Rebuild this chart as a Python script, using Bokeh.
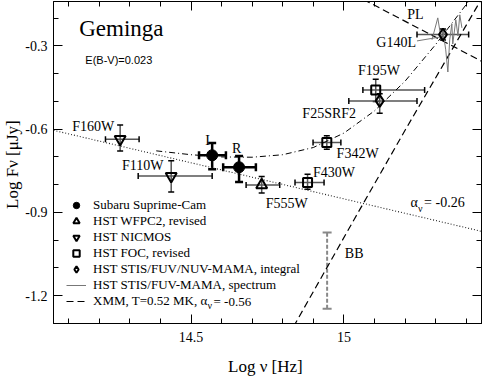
from bokeh.plotting import figure
from bokeh.models import (ColumnDataSource, Whisker, TeeHead, Label, Legend, LegendItem,
                          LinearAxis, FixedTicker, Range1d)
from bokeh.embed import file_html
from bokeh.resources import INLINE

SERIF = "Liberation Serif"
SANS = "Liberation Sans"

# ---------------- data ----------------
x_major_ticks = [14.5, 15.0]
x_minor_ticks = [14.1, 14.2, 14.3, 14.4, 14.5, 14.6, 14.7, 14.8, 14.9, 15.0, 15.1, 15.2, 15.3, 15.4]
x_tick_labels = {14.5: "14.5", 15.0: "15"}
y_major_ticks = [-1.2, -0.9, -0.6, -0.3]
y_minor_ticks = [-1.3, -1.2, -1.1, -1.0, -0.9, -0.8, -0.7, -0.6, -0.5, -0.4, -0.3, -0.2]
y_tick_labels = {-1.2: "-1.2", -0.9: "-0.9", -0.6: "-0.6", -0.3: "-0.3"}

subaru_name = ["I", "R"]
subaru_lognu = [14.569, 14.657]
subaru_lognu_lo = [14.526, 14.605]
subaru_lognu_hi = [14.614, 14.712]
subaru_logf = [-0.694, -0.737]
subaru_logf_lo = [-0.744, -0.790]
subaru_logf_hi = [-0.650, -0.697]

wfpc2_name = ["F555W"]
wfpc2_lognu = [14.731]
wfpc2_lognu_lo = [14.680]
wfpc2_lognu_hi = [14.790]
wfpc2_logf = [-0.801]
wfpc2_logf_lo = [-0.830]
wfpc2_logf_hi = [-0.770]

nicmos_name = ["F160W", "F110W"]
nicmos_lognu = [14.268, 14.435]
nicmos_lognu_lo = [14.220, 14.327]
nicmos_lognu_hi = [14.330, 14.569]
nicmos_logf = [-0.636, -0.769]
nicmos_logf_lo = [-0.679, -0.826]
nicmos_logf_hi = [-0.585, -0.714]

foc_name = ["F430W", "F342W", "F195W"]
foc_lognu = [14.881, 14.944, 15.104]
foc_lognu_lo = [14.840, 14.899, 15.062]
foc_lognu_hi = [14.935, 14.990, 15.264]
foc_logf = [-0.792, -0.648, -0.459]
foc_logf_lo = [-0.816, -0.672, -0.500]
foc_logf_hi = [-0.762, -0.624, -0.420]

stis_name = ["F25SRF2", "G140L"]
stis_lognu = [15.117, 15.324]
stis_lognu_lo = [15.016, 15.239]
stis_lognu_hi = [15.239, 15.408]
stis_logf = [-0.498, -0.259]
stis_logf_lo = [-0.543, -0.279]
stis_logf_hi = [-0.472, -0.239]

spec_lognu = [15.288, 15.307, 15.317, 15.324, 15.333, 15.340, 15.346, 15.353,
              15.356, 15.366, 15.373, 15.379, 15.386]
spec_logf = [-0.278, -0.199, -0.268, -0.246, -0.314, -0.394, -0.278, -0.221,
             -0.293, -0.206, -0.264, -0.188, -0.235]

pl_opt_lognu = [14.05, 15.45]          # optical power law, alpha = -0.26
pl_opt_logf = [-0.604, -0.968]

pl_xmm_lognu = [15.00, 15.45]          # XMM power law, alpha = -0.56
pl_xmm_logf = [-0.096, -0.355]

bb_lognu = [14.80, 15.033, 15.20, 15.45]   # XMM blackbody, T = 0.52 MK
bb_logf = [-1.380, -0.926, -0.604, -0.131]

model_lognu = [14.386, 14.5, 14.6, 14.7, 14.8, 14.9, 15.0, 15.1, 15.2, 15.3, 15.4, 15.45]
model_logf = [-0.678, -0.692, -0.700, -0.701, -0.692, -0.666, -0.614, -0.534,
              -0.427, -0.295, -0.151, -0.072]

bb_err_lognu = [14.945]
bb_err_lo = [-1.247]
bb_err_hi = [-0.972]

g140l_leader_lognu = [15.239, 15.314]
g140l_leader_logf = [-0.282, -0.268]

# ---------------- figure ----------------
FW, FH = 428, 322
XR = (14.05, 15.45)
YR = (-1.30, -0.14)
p = figure(frame_width=FW, frame_height=FH,
           x_range=Range1d(*XR), y_range=Range1d(*YR),
           output_backend="svg", toolbar_location=None,
           min_border_left=53, min_border_right=3, min_border_top=1, min_border_bottom=4)
p.grid.visible = False
p.outline_line_color = "black"
p.outline_line_width = 1
p.background_fill_color = "white"
p.border_fill_color = "white"

def style_axis(ax, ticker, labels, show):
    ax.ticker = ticker
    ax.major_tick_in = 9
    ax.major_tick_out = 0
    ax.minor_tick_in = 5
    ax.minor_tick_out = 0
    ax.axis_line_color = "black"
    ax.major_tick_line_color = "black"
    ax.minor_tick_line_color = "black"
    if show:
        ax.major_label_overrides = labels
        ax.major_label_text_font = SERIF
        ax.major_label_text_font_size = "14px"
        ax.major_label_text_color = "black"
        ax.major_label_standoff = 8
    else:
        ax.major_label_text_color = None
        ax.major_label_text_alpha = 0
        ax.major_label_text_font_size = "1px"
        ax.major_label_standoff = 0

style_axis(p.xaxis[0], FixedTicker(ticks=x_major_ticks, minor_ticks=x_minor_ticks), x_tick_labels, True)
style_axis(p.yaxis[0], FixedTicker(ticks=y_major_ticks, minor_ticks=y_minor_ticks), y_tick_labels, True)
p.yaxis[0].major_label_standoff = 6
for ax, text, stand in ((p.xaxis[0], "Log \u03bd  [Hz]", 12),
                        (p.yaxis[0], "Log F\u03bd  [\u03bcJy]", 0)):
    ax.axis_label = text
    ax.axis_label_text_font = SERIF
    ax.axis_label_text_font_size = "17px"
    ax.axis_label_text_font_style = "normal"
    ax.axis_label_text_color = "black"
    ax.axis_label_standoff = stand

top_ax = LinearAxis()
style_axis(top_ax, FixedTicker(ticks=x_major_ticks, minor_ticks=x_minor_ticks), {}, False)
p.add_layout(top_ax, "above")
right_ax = LinearAxis()
style_axis(right_ax, FixedTicker(ticks=y_major_ticks, minor_ticks=y_minor_ticks), {}, False)
p.add_layout(right_ax, "right")

# ---------------- lines ----------------
p.line(pl_opt_lognu, pl_opt_logf, line_color="#222222", line_width=1.1, line_dash="1 2")
r_model = p.line(model_lognu, model_logf, line_color="black", line_width=1, line_dash="6 3 1 3")
r_bb = p.line(bb_lognu, bb_logf, line_color="black", line_width=1.2, line_dash="7 4")
r_plx = p.line(pl_xmm_lognu, pl_xmm_logf, line_color="black", line_width=1.2, line_dash="7 4")
r_spec = p.line(spec_lognu, spec_logf, line_color="#777777", line_width=1)
p.line(g140l_leader_lognu, g140l_leader_logf, line_color="#777777", line_width=1)

# BB uncertainty bar
src_bb = ColumnDataSource(dict(x=bb_err_lognu, lo=bb_err_lo, hi=bb_err_hi))
p.add_layout(Whisker(source=src_bb, base="x", lower="lo", upper="hi", dimension="height",
                     line_color="#888888", line_width=2, line_dash="4 2",
                     upper_head=TeeHead(size=9, line_color="#888888", line_width=2),
                     lower_head=TeeHead(size=9, line_color="#888888", line_width=2)))

# ---------------- points with error bars ----------------
def errbars(x, y, xlo, xhi, ylo, yhi, color, width, cap):
    src = ColumnDataSource(dict(x=x, y=y, xlo=xlo, xhi=xhi, ylo=ylo, yhi=yhi))
    for dim, base, lo, hi in (("width", "y", "xlo", "xhi"), ("height", "x", "ylo", "yhi")):
        p.add_layout(Whisker(source=src, base=base, lower=lo, upper=hi, dimension=dim,
                             line_color=color, line_width=width,
                             upper_head=TeeHead(size=cap, line_color="black", line_width=width),
                             lower_head=TeeHead(size=cap, line_color="black", line_width=width)))
    return src

s_sub = errbars(subaru_lognu, subaru_logf, subaru_lognu_lo, subaru_lognu_hi,
                subaru_logf_lo, subaru_logf_hi, "black", 2.5, 8)
s_wf = errbars(wfpc2_lognu, wfpc2_logf, wfpc2_lognu_lo, wfpc2_lognu_hi,
               wfpc2_logf_lo, wfpc2_logf_hi, "#555555", 1.5, 6)
s_nic = errbars(nicmos_lognu, nicmos_logf, nicmos_lognu_lo, nicmos_lognu_hi,
                nicmos_logf_lo, nicmos_logf_hi, "#555555", 1.5, 6)
s_foc = errbars(foc_lognu, foc_logf, foc_lognu_lo, foc_lognu_hi,
                foc_logf_lo, foc_logf_hi, "#555555", 1.5, 6)
s_stis = errbars(stis_lognu, stis_logf, stis_lognu_lo, stis_lognu_hi,
                 stis_logf_lo, stis_logf_hi, "#555555", 1.5, 6)

r_sub = p.scatter("x", "y", source=s_sub, marker="circle", size=11,
                  fill_color="black", line_color="black")
r_wf = p.scatter("x", "y", source=s_wf, marker="triangle", size=11,
                 fill_alpha=0, line_color="black", line_width=2)
r_nic = p.scatter("x", "y", source=s_nic, marker="inverted_triangle", size=11,
                  fill_alpha=0, line_color="black", line_width=2)
r_foc = p.scatter("x", "y", source=s_foc, marker="square", size=9,
                  fill_alpha=0, line_color="black", line_width=2)
r_stis = p.scatter("x", "y", source=s_stis, marker="diamond", size=12,
                   fill_alpha=0, line_color="black", line_width=2)

# ---------------- legend ----------------
LEG_X, LEG_Y, ROW, GW, STAND = 13, 14, 16, 20, 7
legend = Legend(items=[
    LegendItem(label="Subaru Suprime-Cam", renderers=[r_sub]),
    LegendItem(label="HST WFPC2, revised", renderers=[r_wf]),
    LegendItem(label="HST NICMOS", renderers=[r_nic]),
    LegendItem(label="HST FOC, revised", renderers=[r_foc]),
    LegendItem(label="HST STIS/FUV/NUV-MAMA, integral", renderers=[r_stis]),
    LegendItem(label="HST STIS/FUV-MAMA, spectrum", renderers=[r_spec]),
    LegendItem(label="XMM, T=0.52 MK, \u03b1", renderers=[r_plx]),
], location=(LEG_X, LEG_Y), glyph_width=GW, glyph_height=ROW, label_height=ROW, spacing=0,
   padding=0, margin=0, label_standoff=STAND, border_line_alpha=0, background_fill_alpha=0,
   label_text_font=SERIF, label_text_font_size="13px", label_text_color="black")
p.add_layout(legend)

# ---------------- text annotations ----------------
PXX = (XR[1] - XR[0]) / FW     # data units per pixel (x)
PXY = (YR[1] - YR[0]) / FH     # data units per pixel (y)

def lab(x, y, text, size=14, font=SERIF):
    """Place text whose alphabetic baseline is at data (x, y), via a middle anchor."""
    p.add_layout(Label(x=x, y=y + 0.335 * size * PXY, text=text, text_font=font,
                       text_font_size=f"{size}px", text_color="black",
                       text_align="left", text_baseline="middle"))

lab(14.134, -0.266, "Geminga", size=23)
lab(14.154, -0.363, "E(B-V)=0.023", size=11, font=SANS)
point_labels = [("F160W", 14.111, -0.608), ("F110W", 14.274, -0.748), ("I", 14.546, -0.656),
                ("R", 14.634, -0.687), ("F555W", 14.744, -0.885), ("F430W", 14.899, -0.772),
                ("F342W", 14.976, -0.706), ("F25SRF2", 14.864, -0.562), ("F195W", 15.046, -0.406),
                ("G140L", 15.106, -0.304), ("PL", 15.207, -0.202), ("BB", 15.003, -1.066)]
for t, x, y in point_labels:
    lab(x, y, t)

# alpha_nu = -0.26
ax0, ay0 = 15.218, -0.882
lab(ax0, ay0, "\u03b1")
lab(ax0 + 7.5 * PXX, ay0 - 4 * PXY, "\u03bd", size=10)
lab(ax0 + 13.5 * PXX, ay0, "= -0.26")

# legend XMM subscript continuation (row centre -> baseline)
lx = XR[0] + (LEG_X + GW + STAND + 114) * PXX
lbase = YR[0] + (LEG_Y + ROW / 2) * PXY - 4.4 * PXY
lab(lx, lbase - 3 * PXY, "\u03bd", size=10)
lab(lx + 6 * PXX, lbase, "= -0.56", size=13)

open("out.html", "w").write(file_html(p, INLINE))
